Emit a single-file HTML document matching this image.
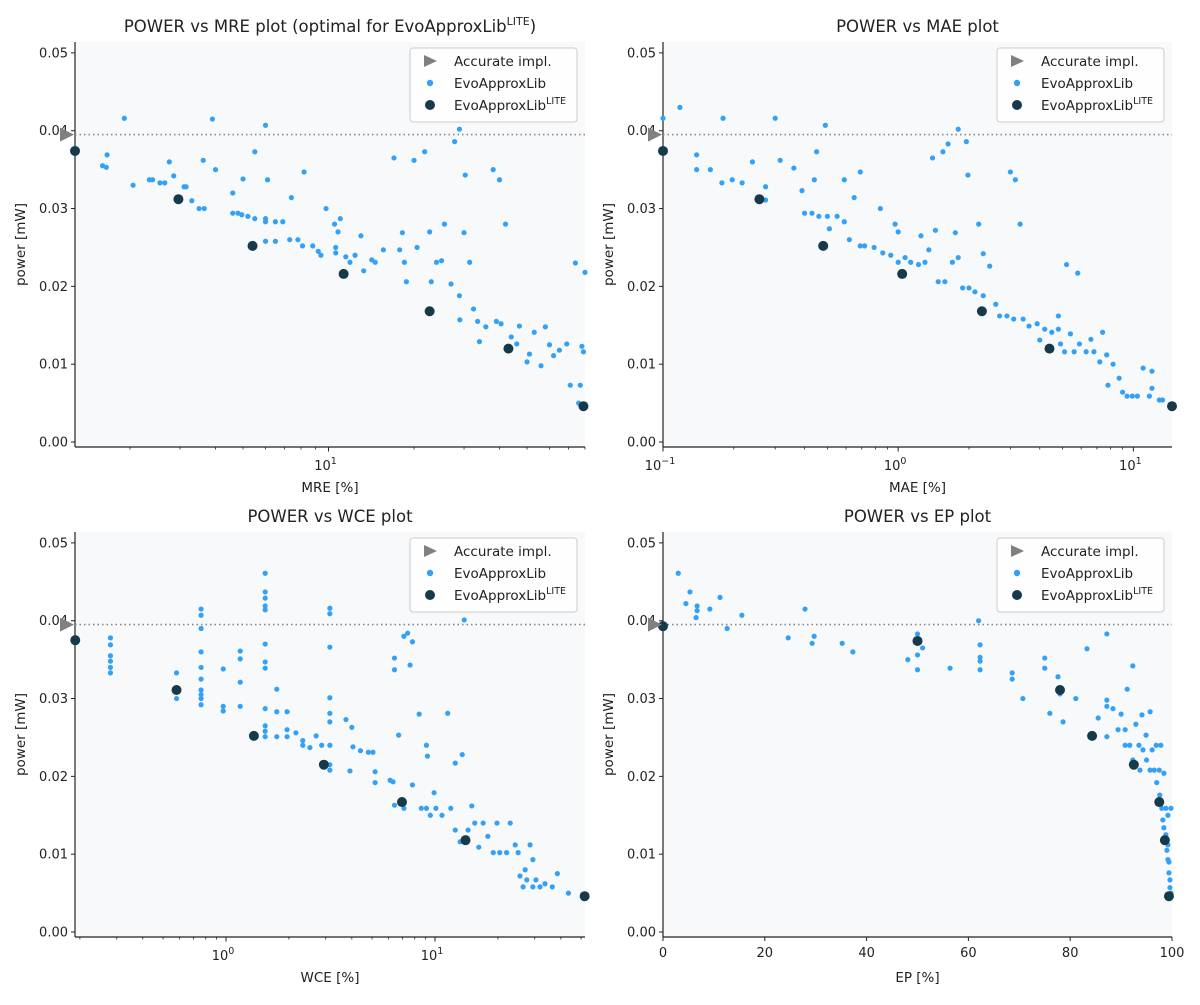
<!DOCTYPE html>
<html><head><meta charset="utf-8"><style>
html,body{margin:0;padding:0;background:#fff;}
svg text{font-family:"DejaVu Sans","Liberation Sans",sans-serif;fill:#222;}
</style></head><body>
<svg id="chart" width="1200" height="1000" viewBox="0 0 1200 1000" xmlns="http://www.w3.org/2000/svg"></svg>
<script>
// ---- data (x value, power mW) ----
const mreLite=[[1.28,.0374],[2.96,.0312],[5.4,.0252],[11.3,.0216],[22.7,.0168],[43,.012],[79,.0046]];
const mreEvo=[[1.91,.0416],[3.9,.0415],[6.0,.0407],[1.6,.0355],[1.65,.0353],[1.66,.0369],[2.05,.033],[2.34,.0337],[2.4,.0337],[2.55,.0333],[2.65,.0333],[2.75,.036],[2.85,.0342],[3.1,.0328],[3.15,.0328],[3.3,.031],[3.5,.030],[3.65,.030],[3.62,.0362],[4.0,.035],[4.6,.032],[4.6,.0294],[4.8,.0294],[4.95,.0292],[5.2,.029],[5.0,.0338],[5.5,.0373],[5.5,.0287],[6.0,.0287],[6.0,.0283],[6.1,.0337],[6.5,.0283],[6.9,.0283],[6.0,.0258],[6.5,.0258],[7.4,.0314],[7.3,.026],[7.8,.026],[8.2,.0347],[8.1,.0252],[8.8,.0252],[9.2,.0245],[9.4,.024],[9.8,.030],[10.5,.028],[10.8,.027],[11,.0287],[10.6,.025],[10.6,.0243],[11.5,.0238],[11.9,.0231],[12.4,.024],[13,.0265],[13.3,.022],[14.2,.0234],[14.6,.0231],[15.6,.0247],[17,.0365],[17.8,.0247],[18.2,.0269],[18.5,.0231],[18.8,.0206],[20.5,.025],[20,.0362],[21.8,.0373],[22.7,.027],[23,.0206],[24,.0231],[25,.0233],[25.6,.028],[27,.0203],[27.8,.0386],[28.9,.0402],[30,.0269],[30.3,.0343],[28.9,.0188],[29,.0157],[31.4,.0231],[32.4,.0171],[33.5,.0155],[34,.0129],[35.8,.0148],[38,.035],[40,.0337],[42,.028],[39,.0155],[40.5,.0152],[44,.0135],[46,.0126],[47,.0149],[50,.0103],[51,.0113],[53,.0141],[56,.0098],[58,.0148],[60,.0125],[62,.0111],[65,.0118],[69,.0126],[71,.0073],[74,.023],[77,.0073],[78,.0123],[76,.005],[80,.0218],[79,.0116]];
const maeLite=[[0.1,.0374],[0.257,.0312],[0.48,.0252],[1.04,.0216],[2.27,.0168],[4.4,.012],[14.6,.0046]];
const maeEvo=[[.1,.0416],[.118,.043],[.139,.0369],[.139,.035],[.159,.035],[.18,.0416],[.178,.0333],[.197,.0337],[.217,.0333],[.24,.036],[.273,.0328],[.273,.0311],[.3,.0416],[.315,.0362],[.36,.0352],[.39,.0323],[.4,.0294],[.43,.0294],[.44,.0337],[.45,.0373],[.46,.029],[.49,.0407],[.5,.029],[.51,.0274],[.55,.029],[.59,.0337],[.59,.0283],[.65,.0314],[.62,.026],[.69,.0347],[.69,.0252],[.72,.0252],[.79,.025],[.84,.030],[.86,.0243],[.93,.024],[.97,.028],[1.0,.027],[1.0,.0231],[1.07,.0237],[1.13,.0231],[1.22,.0228],[1.25,.0265],[1.3,.0231],[1.35,.0247],[1.4,.0365],[1.44,.0272],[1.48,.0206],[1.55,.0373],[1.58,.0206],[1.63,.0383],[1.7,.0231],[1.75,.0269],[1.8,.0237],[1.8,.0402],[1.88,.0198],[1.95,.0386],[1.98,.0343],[2.0,.0198],[2.12,.0193],[2.2,.028],[2.3,.0242],[2.3,.0188],[2.45,.0226],[2.6,.0177],[2.7,.0162],[2.9,.0162],[3.0,.0347],[3.15,.0337],[3.3,.028],[3.1,.0158],[3.4,.0158],[3.6,.0149],[3.9,.0152],[4.0,.0131],[4.2,.0145],[4.5,.0141],[4.8,.0145],[4.9,.0126],[4.8,.0162],[5.1,.0116],[5.2,.0228],[5.4,.0139],[5.6,.0116],[5.8,.0217],[5.9,.0126],[6.3,.0116],[6.6,.0132],[6.8,.0116],[7.2,.0103],[7.4,.0141],[7.7,.0112],[7.8,.0073],[8.2,.010],[8.7,.0082],[9.0,.0064],[9.4,.0059],[9.9,.0059],[10.4,.0059],[11.0,.0095],[11.7,.0059],[12,.0069],[12.9,.0054],[13.3,.0054],[12,.0091]];
const wceLite=[[0.19,.0375],[0.58,.0311],[1.36,.0252],[2.94,.0215],[6.95,.0167],[14,.0118],[52,.0046]];
const wceEvo=[[.28,.0378],[.28,.0369],[.28,.0355],[.28,.0348],[.28,.034],[.28,.0333],[.58,.0333],[.58,.030],[.76,.0415],[.76,.0407],[.76,.039],[.76,.036],[.76,.034],[.76,.0311],[.76,.0305],[.76,.030],[.76,.0292],[.76,.0325],[.97,.0338],[.97,.029],[.97,.0284],[1.17,.0361],[1.17,.0351],[1.17,.0321],[1.17,.029],[1.54,.0461],[1.54,.0437],[1.54,.0429],[1.54,.0419],[1.54,.0414],[1.54,.037],[1.54,.0347],[1.54,.0339],[1.54,.0287],[1.54,.0265],[1.54,.0258],[1.54,.0251],[1.75,.0312],[1.75,.0283],[1.75,.0251],[1.96,.0283],[1.96,.026],[1.96,.0251],[2.16,.0256],[2.33,.0246],[2.33,.024],[2.52,.0237],[2.7,.0252],[2.87,.024],[3.14,.0416],[3.14,.0409],[3.14,.0366],[3.14,.0301],[3.14,.0281],[3.14,.027],[3.14,.024],[3.14,.0208],[3.14,.0215],[3.75,.0273],[3.92,.0207],[4.0,.0263],[4.05,.0238],[4.4,.0233],[4.8,.0231],[5.05,.0231],[5.17,.0206],[5.17,.0192],[6.1,.0195],[6.3,.0193],[6.4,.0352],[6.4,.0337],[6.4,.0163],[6.7,.0253],[7.1,.038],[7.1,.0159],[7.4,.0384],[7.6,.0343],[7.8,.0373],[7.8,.0189],[8.4,.028],[8.6,.0159],[9.1,.0159],[9.1,.024],[9.2,.0226],[9.5,.015],[9.9,.0179],[10.1,.0159],[10.8,.015],[11.5,.0281],[11.9,.0159],[12.5,.0217],[12.5,.0131],[13.2,.0116],[13.5,.0228],[13.8,.0401],[14.4,.0131],[15,.0162],[15.5,.014],[16.2,.0109],[17.0,.014],[17.9,.0123],[19,.0102],[19.8,.014],[20.4,.0102],[22,.0102],[22.9,.014],[24.2,.0112],[25,.0102],[25.5,.0072],[26.4,.0058],[27,.008],[27.5,.0067],[28.5,.0112],[29.4,.0058],[29.4,.0093],[30.4,.0067],[31.8,.0058],[33.6,.0062],[36.4,.0058],[38.5,.0075],[43.5,.005]];
const epLite=[[0,.0393],[50,.0374],[78,.0311],[84.3,.0252],[92.5,.0215],[97.5,.0167],[98.6,.0118],[99.4,.0046]];
const epEvo=[[3,.0461],[5.3,.0437],[4.5,.0422],[6.7,.0419],[6.7,.0413],[6.5,.0404],[9.2,.0415],[11.2,.043],[12.6,.039],[15.5,.0407],[24.6,.0378],[27.9,.0415],[29.3,.0371],[29.7,.038],[35.2,.0371],[37.3,.036],[48.1,.035],[50,.0383],[50,.0356],[50,.0337],[51,.0365],[56.4,.0339],[62,.04],[62.3,.0369],[62.3,.0353],[62.3,.0348],[62.3,.0337],[68.6,.0333],[68.6,.0325],[70.7,.030],[75,.0352],[75,.0339],[76,.0281],[77.6,.0328],[78,.0306],[78.6,.027],[81.1,.030],[83.3,.0364],[85.5,.0275],[87.2,.0383],[87.2,.0298],[87.2,.029],[87.2,.0251],[88.4,.0287],[89.4,.026],[90,.028],[90.8,.026],[90.8,.024],[91.2,.0312],[91.7,.024],[92.3,.0342],[92.3,.0221],[92.9,.0267],[93.5,.024],[93.7,.0208],[94.1,.0279],[94.3,.0234],[94.9,.0253],[95,.0221],[95.7,.0208],[95.7,.0283],[96.1,.0234],[96.5,.0208],[96.9,.024],[97,.0192],[97.5,.0208],[97.6,.0176],[97.8,.024],[98,.0159],[98.2,.0144],[98.4,.0204],[98.4,.0134],[98.8,.0159],[98.8,.0125],[99,.0105],[99.2,.015],[99.2,.0093],[99.4,.0076],[99.6,.0067],[99.6,.0057],[99.8,.0159],[99.8,.005],[99.4,.009],[99.2,.0112]];
const accuratePower=0.0395;
const yTicks=[0,0.01,0.02,0.03,0.04,0.05];
const yTickLabels=["0.00","0.01","0.02","0.03","0.04","0.05"];
const epTicks=[0,20,40,60,80,100];

const NS="http://www.w3.org/2000/svg";
const svg=document.getElementById('chart');
function el(tag,attrs,parent){const e=document.createElementNS(NS,tag);for(const k in attrs)e.setAttribute(k,attrs[k]);(parent||svg).appendChild(e);return e;}

const panels=[
 {key:'mre',title:'POWER vs MRE plot (optimal for EvoApproxLib',sup:'LITE',xl:'MRE [%]',x0:75,x1:585,yt:42,yb:447,log:true,dom:[1.28,80],lite:mreLite,evo:mreEvo,majors:[1]},
 {key:'mae',title:'POWER vs MAE plot',xl:'MAE [%]',x0:663,x1:1172,yt:42,yb:447,log:true,dom:[0.1,14.6],lite:maeLite,evo:maeEvo,majors:[-1,0,1]},
 {key:'wce',title:'POWER vs WCE plot',xl:'WCE [%]',x0:75,x1:585,yt:532,yb:937,log:true,dom:[0.1895,52.2],lite:wceLite,evo:wceEvo,majors:[0,1]},
 {key:'ep',title:'POWER vs EP plot',xl:'EP [%]',x0:663,x1:1172,yt:532,yb:937,log:false,dom:[0,100],lite:epLite,evo:epEvo}
];
const yDom=[-0.00064,0.0514];

panels.forEach(p=>{
 const g=el('g',{});
 
 
 const X=v=>p.log? p.x0+(Math.log10(v)-Math.log10(p.dom[0]))/(Math.log10(p.dom[1])-Math.log10(p.dom[0]))*(p.x1-p.x0) : p.x0+(v-p.dom[0])/(p.dom[1]-p.dom[0])*(p.x1-p.x0);
 const Y=v=>p.yb-(v-yDom[0])/(yDom[1]-yDom[0])*(p.yb-p.yt);
 const bg=el('rect',{x:p.x0,y:p.yt,width:p.x1-p.x0,height:p.yb-p.yt,fill:'#f8f9fb'},g);
 
 
 const t=el('text',{x:(p.x0+p.x1)/2,y:p.yt-10,'text-anchor':'middle','font-size':'16.5'},g);
 
 
 t.textContent=p.title;
 if(p.sup){const s=el('tspan',{dy:'-7','font-size':'11'},t);s.textContent=p.sup;const c=el('tspan',{dy:'7'},t);c.textContent=')';}
 yTicks.forEach((v,i)=>{
  el('line',{x1:p.x0-4,x2:p.x0,y1:Y(v),y2:Y(v),stroke:'#222','stroke-width':1},g);
  const tl=el('text',{x:p.x0-7,y:Y(v)+4.5,'text-anchor':'end','font-size':'13'},g);
  
  
  tl.textContent=yTickLabels[i];
 });
 const yl=el('text',{x:p.x0-50,y:(p.yt+p.yb)/2,'text-anchor':'middle','font-size':'13.5',transform:`rotate(-90 ${p.x0-50} ${(p.yt+p.yb)/2})`},g);
 
 
 yl.textContent='power [mW]';
 if(p.log){
  for(let e=-2;e<=2;e++)for(let m=1;m<10;m++){
   const v=m*Math.pow(10,e); if(v<p.dom[0]||v>p.dom[1])continue;
   const x=X(v);
   el('line',{x1:x,x2:x,y1:p.yb,y2:p.yb+(m===1?4.5:2.5),stroke:'#222','stroke-width':m===1?1:0.8},g);
  }
  p.majors.forEach(e=>{
   const x=X(Math.pow(10,e));
   const tl=el('text',{x:x-3,y:p.yb+23,'text-anchor':'middle','font-size':'13'},g);
   
   
   tl.textContent='10';
   const s=el('tspan',{dy:'-6','font-size':'9.5'},tl);s.textContent=String(e).replace('-','\u2212');
  });
 } else {
  epTicks.forEach(v=>{
   const x=X(v);
   el('line',{x1:x,x2:x,y1:p.yb,y2:p.yb+4,stroke:'#222'},g);
   const tl=el('text',{x:x,y:p.yb+20,'text-anchor':'middle','font-size':'13'},g);
   
   
   tl.textContent=v;
  });
 }
 const xl=el('text',{x:(p.x0+p.x1)/2,y:p.yb+45,'text-anchor':'middle','font-size':'13.5'},g);
 
 
 xl.textContent=p.xl;
 el('line',{x1:p.x0,x2:p.x0,y1:p.yt,y2:p.yb,stroke:'#222','stroke-width':1.2},g);
 el('line',{x1:p.x0,x2:p.x1,y1:p.yb,y2:p.yb,stroke:'#222','stroke-width':1.2},g);
 const al=el('line',{x1:p.x0,x2:p.x1,y1:Y(accuratePower),y2:Y(accuratePower),stroke:'#888','stroke-width':1.6,'stroke-dasharray':'1.5 3'},g);
 
 
 p.evo.forEach(d=>{
  const c=el('circle',{cx:X(d[0]),cy:Y(d[1]),r:2.6,fill:'#33a1f7'},g);
  
  
 });
 p.lite.forEach(d=>{
  const c=el('circle',{cx:X(d[0]),cy:Y(d[1]),r:5,fill:'#173a4b'},g);
  
  
 });
 const ty=Y(accuratePower), tx=p.x0-9;
 const tri=el('polygon',{points:`${tx-6},${ty-7} ${tx+8},${ty} ${tx-6},${ty+7}`,fill:'#808080'},g);
 
 
 const lx=p.x1-175, ly=p.yt+6;
 const lg=el('g',{},g);
 
 
 el('rect',{x:lx,y:ly,width:167,height:74,rx:3,fill:'#fff','fill-opacity':0.85,stroke:'#ccc'},lg);
 const rows=[['Accurate impl.','tri'],['EvoApproxLib','dot'],['EvoApproxLib','lite']];
 rows.forEach((r,i)=>{
  const yy=ly+13+i*22, mx=lx+20;
  if(r[1]==='tri') el('polygon',{points:`${mx-6},${yy-6} ${mx+7},${yy} ${mx-6},${yy+6}`,fill:'#808080'},lg);
  else if(r[1]==='dot') el('circle',{cx:mx,cy:yy,r:3.2,fill:'#33a1f7'},lg);
  else el('circle',{cx:mx,cy:yy,r:5,fill:'#173a4b'},lg);
  const tt=el('text',{x:lx+44,y:yy+5,'font-size':'13.5'},lg);
  
  
  tt.textContent=r[0];
  if(r[1]==='lite'){const s=el('tspan',{dy:'-6','font-size':'9.5'},tt);s.textContent='LITE';}
 });
});
</script>
</body></html>
